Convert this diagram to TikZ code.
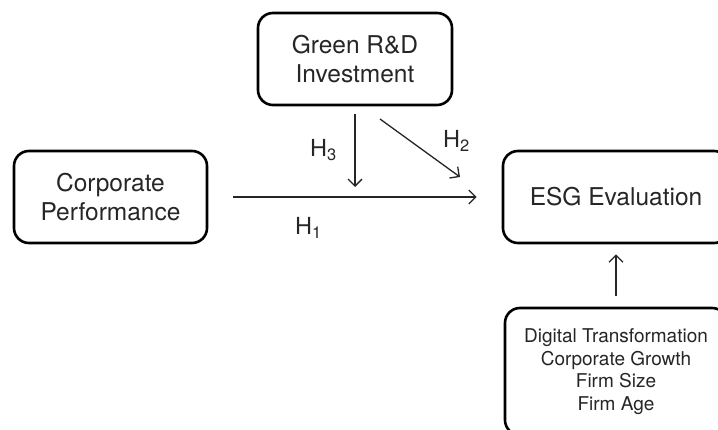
\documentclass[tikz,border=0pt]{standalone}
\usepackage{fontspec}
\setmainfont{TeX Gyre Heros}
\usetikzlibrary{arrows.meta}
\begin{document}
\begin{tikzpicture}[x=1pt,y=-1pt,
  box/.style={draw=black,line width=2.6pt,rounded corners=15pt,align=center,inner sep=0pt,
    font=\fontsize{24.5}{29}\selectfont,text=black!85},
  conn/.style={line width=1.3pt,draw=black!85,-{Straight Barb[length=7pt,width=14pt,line width=1.3pt]}},
  hlab/.style={anchor=base west,inner sep=0pt,font=\fontsize{23.5}{28}\selectfont,text=black!85}]
\useasboundingbox (0,0) rectangle (718,430);
\fill[white] (0,0) rectangle (718,430);
\begin{scope}
\clip (0,0) rectangle (718,430);
\node[box,minimum width=194pt,minimum height=92pt] (green) at (355,59) {Green R\&D\\Investment};
\node[box,minimum width=193pt,minimum height=92pt] (corp) at (110.5,197) {Corporate\\Performance};
\node[box,minimum width=226pt,minimum height=92pt] (esg) at (616,197) {ESG Evaluation};
\node[box,minimum width=222pt,minimum height=127pt,font=\fontsize{19}{22.5}\selectfont] (ctrl) at (616,371.5)
  {Digital Transformation\\Corporate Growth\\Firm Size\\Firm Age};
\end{scope}
\coordinate (m) at (355,197);
\coordinate (d1) at (380,119);
\coordinate (d2) at (460,177);
\draw[conn,shorten <=25pt,shorten >=25pt] (corp.east) -- (esg.west);
\draw[conn,shorten <=8pt,shorten >=10pt] (green.south) -- (m);
\draw[conn] (d1) -- (d2);
\draw[conn,shorten <=11pt,shorten >=10pt] (ctrl.north) -- (esg.south);
\node[hlab] (h1) at (295,235) {H\textsubscript{1}};
\node[hlab] (h2) at (443,148) {H\textsubscript{2}};
\node[hlab] (h3) at (310,157) {H\textsubscript{3}};
\end{tikzpicture}
\end{document}
